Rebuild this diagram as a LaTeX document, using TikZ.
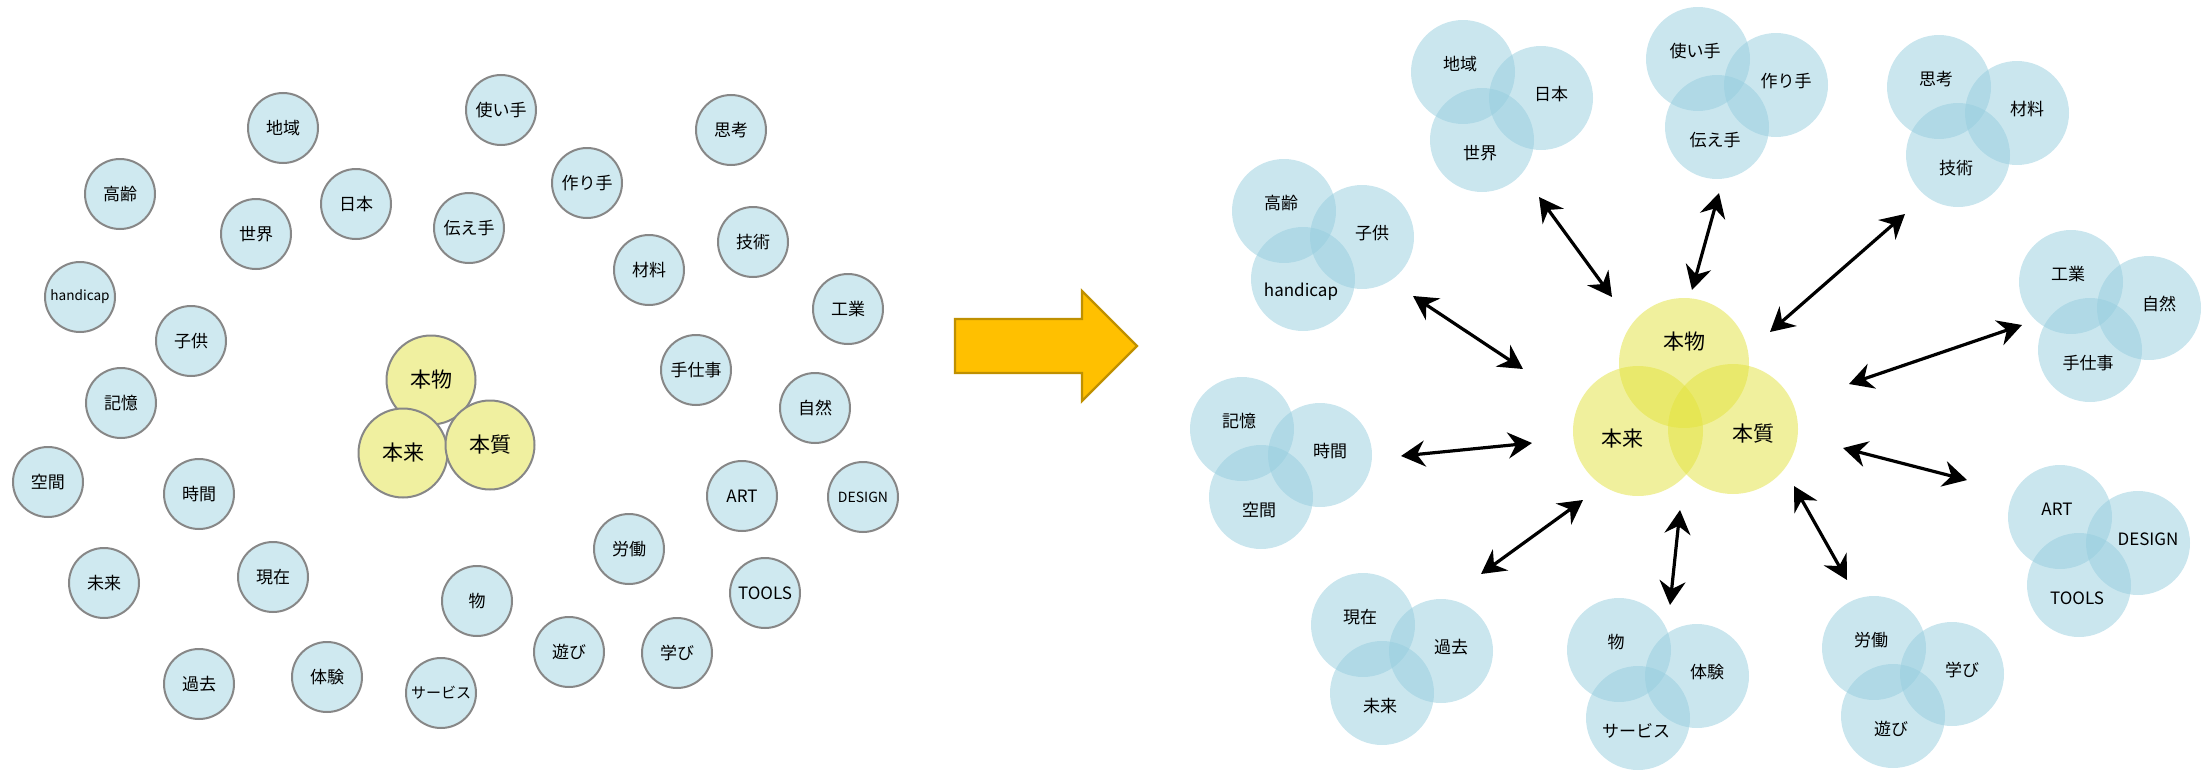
\documentclass[tikz,border=0pt]{standalone}
\usepackage{fontspec}
\setmainfont{Noto Sans CJK JP}
\usetikzlibrary{arrows.meta}
\definecolor{lblue}{RGB}{207,233,240}
\definecolor{lgray}{RGB}{135,135,135}
\definecolor{lyellow}{RGB}{240,240,160}
\definecolor{rblue}{RGB}{150,205,222}
\definecolor{ryellow}{RGB}{226,226,60}
\definecolor{aorange}{RGB}{255,192,0}
\definecolor{aorangedk}{RGB}{191,144,0}
\tikzset{
  lc/.style={circle, draw=lgray, line width=1pt, fill=lblue, minimum size=35pt, inner sep=0pt, font=\fontsize{8.5}{10}\selectfont},
  ly/.style={circle, draw=lgray, line width=1pt, fill=lyellow, minimum size=44.5pt, inner sep=0pt, font=\fontsize{10.5}{12}\selectfont},
  rc/.style={circle, fill=rblue, fill opacity=0.5, minimum size=52pt, inner sep=0pt},
  ryc/.style={circle, fill=ryellow, fill opacity=0.5, minimum size=65pt, inner sep=0pt},
  rt/.style={inner sep=0pt, font=\fontsize{8.5}{10}\selectfont},
  ryt/.style={inner sep=0pt, font=\fontsize{10.5}{12}\selectfont},
  dbl/.style={line width=1.6pt, {Stealth[length=12pt,width=13pt,inset=4pt]}-{Stealth[length=12pt,width=13pt,inset=4pt]}},
  bigarrow/.style={fill=aorange, draw=aorangedk, line width=1.2pt, line join=miter}
}
\begin{document}
\begin{tikzpicture}[x=0.5pt,y=-0.5pt]
\useasboundingbox (0,0) rectangle (2208,771);
% ---------- left: scattered words ----------
\foreach \k/\x/\y/\t in {
  l1/283/128/地域, l2/501/110/使い手, l3/731/130/思考, l4/120/194/高齢,
  l5/356/204/日本, l6/256/234/世界, l7/587/183/作り手, l8/469/228/伝え手,
  l9/753/242/技術, l10/649/270/材料, l12/848/309/工業,
  l13/191/341/子供, l14/696/370/手仕事, l15/121/403/記憶, l16/815/408/自然,
  l17/48/482/空間, l18/199/494/時間, l20/629/549/労働,
  l21/104/583/未来, l22/273/577/現在, l24/477/601/物,
  l25/199/684/過去, l26/327/677/体験, l27/569/652/遊び, l28/677/653/学び}
  { \node[lc] (\k) at (\x,\y) {\t}; }
\node[lc] (l11) at (80,297) {\fontsize{6.8}{8}\selectfont handicap};
\node[lc] (l19) at (742,496) {\fontsize{8.5}{10}\selectfont ART};
\node[lc] (l23) at (765,593) {\fontsize{8.5}{10}\selectfont TOOLS};
\node[lc] (l29) at (863,497) {\fontsize{7}{8}\selectfont DESIGN};
\node[lc] (l30) at (441,693) {\fontsize{7.5}{9}\selectfont サービス};
\node[ly] (ly1) at (431,380) {本物};
\node[ly] (ly2) at (403,453) {本来};
\node[ly] (ly3) at (490,445) {本質};
% ---------- big arrow ----------
\draw[bigarrow] (955,319) -- (1082,319) -- (1082,291) -- (1137,346) -- (1082,401) -- (1082,373) -- (955,373) -- cycle;
% ---------- right: clusters ----------
\foreach \k/\x/\y in {c1/1284/211, c2/1463/72, c3/1698/59, c4/1939/87, c5/2071/282,
  c6/1242/429, c7/2060/517, c8/1363/625, c9/1619/650, c10/1874/648}
{
  \node[rc] (\k a) at (\x,\y) {};
  \node[rc] (\k b) at (\x+78,\y+26) {};
  \node[rc] (\k c) at (\x+19,\y+68) {};
}
\node[ryc] (y1) at (1684,363) {};
\node[ryc] (y2) at (1638,431) {};
\node[ryc] (y3) at (1733,429) {};
\foreach \k/\ta/\tb/\tc in {
  c1/高齢/子供/handicap,
  c2/地域/日本/世界, c3/使い手/作り手/伝え手, c4/思考/材料/技術,
  c5/工業/自然/手仕事, c6/記憶/時間/空間,
  c7/ART/DESIGN/TOOLS,
  c8/現在/過去/未来, c9/物/体験/サービス, c10/労働/学び/遊び}
{
  \node[rt] (\k ta) at ([shift={(-3,-8)}]\k a) {\ta};
  \node[rt] (\k tb) at ([shift={(10,-4)}]\k b) {\tb};
  \node[rt] (\k tc) at ([shift={(-2,13)}]\k c) {\tc};
}
\node[ryt] (y1t) at (1684,342) {本物};
\node[ryt] (y2t) at (1622,439) {本来};
\node[ryt] (y3t) at (1753,434) {本質};
% ---------- double arrows ----------
\coordinate (a1s) at (1413,296); \coordinate (a1e) at (1523,369);
\coordinate (a2s) at (1539,197); \coordinate (a2e) at (1612,297);
\coordinate (a3s) at (1719,193); \coordinate (a3e) at (1692,290);
\coordinate (a4s) at (1905,214); \coordinate (a4e) at (1770,332);
\coordinate (a5s) at (2022,325); \coordinate (a5e) at (1849,384);
\coordinate (a6s) at (1401,456); \coordinate (a6e) at (1532,443);
\coordinate (a7s) at (1843,448); \coordinate (a7e) at (1967,480);
\coordinate (a8s) at (1481,574); \coordinate (a8e) at (1583,500);
\coordinate (a9s) at (1680,510); \coordinate (a9e) at (1670,605);
\coordinate (a10s) at (1794,486); \coordinate (a10e) at (1847,580);
\foreach \i in {1,...,10} { \draw[dbl] (a\i s) -- (a\i e); }
\end{tikzpicture}
\end{document}
